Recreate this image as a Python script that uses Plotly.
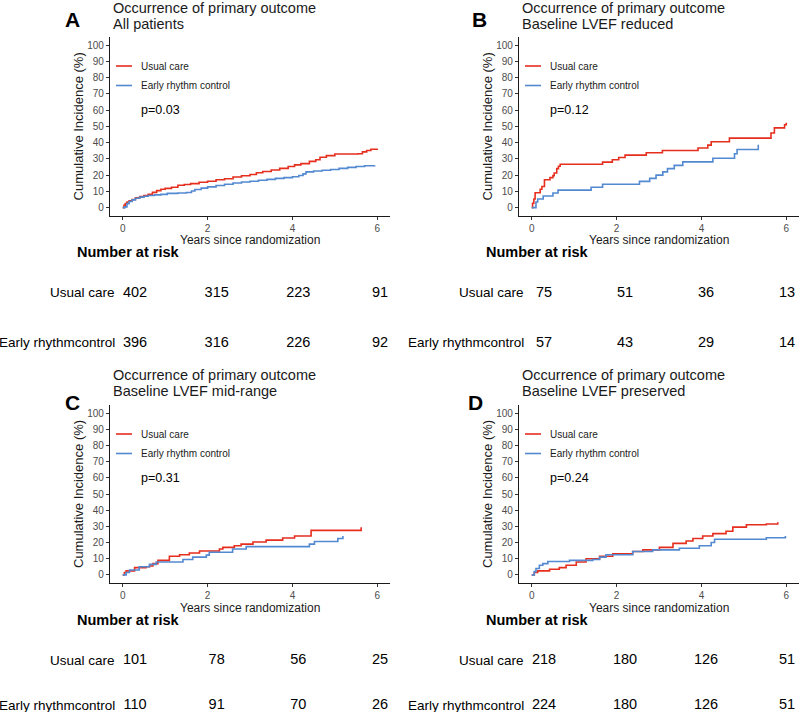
import plotly.graph_objects as go

# ---------------- data ----------------
panel_letters = ["A", "B", "C", "D"]
panel_subtitles = ["All patients", "Baseline LVEF reduced", "Baseline LVEF mid-range", "Baseline LVEF preserved"]
title_line1 = "Occurrence of primary outcome"
p_values = ["p=0.03", "p=0.12", "p=0.31", "p=0.24"]
group_names = ["Usual care", "Early rhythm control"]
risk_row_labels = ["Usual care", "Early rhythmcontrol"]
risk_times = [0, 2, 4, 6]
x_ticks = [0, 2, 4, 6]
y_ticks = [0, 10, 20, 30, 40, 50, 60, 70, 80, 90, 100]

# Panel A - all patients
A_usual_t = [0, 0.03, 0.06, 0.1, 0.15, 0.22, 0.3, 0.4, 0.5, 0.6, 0.7, 0.8, 0.9, 1.0, 1.15, 1.3, 1.45, 1.6, 1.8, 2.0,
             2.2, 2.4, 2.6, 2.8, 3.0, 3.15, 3.3, 3.5, 3.7, 3.9, 4.05, 4.2, 4.4, 4.55, 4.65, 4.8, 5.0, 5.55, 5.65, 5.75,
             5.85, 6.0]
A_usual_y = [0, 1.5, 2.5, 3.5, 4.2, 5.0, 6.0, 6.8, 7.5, 8.3, 9.4, 10.5, 11.3, 11.9, 12.6, 13.8, 14.3, 14.8, 15.6, 16.3,
             17.2, 17.8, 18.9, 19.6, 20.4, 21.5, 22.3, 23.2, 24.2, 25.3, 26.3, 27.1, 28.5, 29.5, 31.0, 32.0, 33.0, 33.2,
             34.3, 35.2, 35.9, 36.2]
A_early_t = [0, 0.05, 0.1, 0.15, 0.22, 0.3, 0.4, 0.5, 0.6, 0.75, 0.9, 1.05, 1.3, 1.5, 1.62, 1.7, 1.85, 2.0, 2.2, 2.4,
             2.6, 2.8, 3.0, 3.2, 3.4, 3.6, 3.8, 4.0, 4.15, 4.25, 4.32, 4.5, 4.7, 4.9, 5.1, 5.3, 5.5, 5.7, 5.94]
A_early_y = [0, 0.5, 2.5, 3.8, 4.8, 5.8, 6.5, 7.0, 7.5, 7.9, 8.2, 8.8, 9.0, 9.3, 10.3, 11.2, 12.0, 12.8, 13.6, 14.4,
             15.2, 15.8, 16.3, 16.9, 17.4, 18.0, 18.5, 19.0, 19.8, 20.8, 22.0, 22.6, 23.0, 23.5, 24.2, 24.8, 25.3, 25.8,
             26.0]
A_risk_usual = [402, 315, 223, 91]
A_risk_early = [396, 316, 226, 92]

# Panel B - LVEF reduced
B_usual_t = [0, 0.02, 0.05, 0.08, 0.2, 0.24, 0.3, 0.43, 0.5, 0.53, 0.59, 0.63, 0.67, 1.67, 1.9, 2.05, 2.2, 2.7, 3.08,
             3.92, 4.15, 4.23, 4.66, 5.64, 5.72, 5.96, 6.0]
B_usual_y = [0, 2.7, 5.3, 9.2, 11.3, 13.0, 17.2, 18.5, 19.7, 21.3, 24.0, 25.5, 26.7, 28.0, 29.5, 30.9, 32.3, 33.8,
             35.2, 36.7, 38.5, 40.6, 42.8, 45.9, 49.1, 51.0, 52.2]
B_early_t = [0, 0.1, 0.14, 0.27, 0.5, 0.62, 1.4, 1.67, 2.54, 2.78, 2.93, 3.09, 3.2, 3.36, 3.56, 4.27, 4.78, 4.84, 5.34]
B_early_y = [0, 3.5, 5.3, 7.2, 9.0, 10.8, 12.6, 14.4, 16.2, 18.0, 20.0, 22.0, 24.0, 26.0, 28.2, 30.4, 33.2, 35.8, 38.7]
B_risk_usual = [75, 51, 36, 13]
B_risk_early = [57, 43, 29, 14]

# Panel C - LVEF mid-range
C_usual_t = [0, 0.04, 0.08, 0.28, 0.55, 0.63, 0.71, 0.83, 1.1, 1.34, 1.57, 1.81, 2.28, 2.36, 2.63, 2.79, 3.07, 3.38,
             3.77, 4.05, 4.44, 5.62]
C_usual_y = [0, 1.5, 2.5, 4.5, 5.0, 5.5, 7.0, 9.0, 11.5, 12.5, 13.5, 14.8, 16.0, 17.0, 18.0, 19.0, 20.3, 21.5, 22.8,
             24.0, 27.5, 29.5]
C_early_t = [0, 0.08, 0.16, 0.39, 0.63, 0.79, 1.42, 1.65, 1.97, 2.04, 2.59, 2.91, 4.4, 4.52, 5.07, 5.19]
C_early_y = [0, 1.5, 3.0, 5.0, 6.5, 8.0, 9.5, 11.0, 12.2, 14.0, 16.0, 17.5, 19.0, 20.6, 22.5, 24.0]
C_risk_usual = [101, 78, 56, 25]
C_risk_early = [110, 91, 70, 26]

# Panel D - LVEF preserved
D_usual_t = [0, 0.06, 0.14, 0.42, 0.65, 0.81, 1.05, 1.28, 1.6, 1.91, 2.38, 2.62, 3.01, 3.33, 3.64, 3.8, 4.03, 4.27,
             4.58, 4.74, 5.06, 5.53, 5.8]
D_usual_y = [0, 1.5, 2.5, 3.5, 4.5, 6.0, 8.0, 10.0, 11.5, 13.0, 14.5, 15.5, 17.0, 19.5, 21.0, 22.5, 24.0, 25.5, 27.0,
             29.5, 31.0, 31.5, 32.5]
D_early_t = [0, 0.06, 0.1, 0.18, 0.26, 0.38, 0.89, 1.44, 1.6, 1.75, 2.38, 2.85, 3.48, 3.95, 4.23, 4.31, 5.53, 5.98]
D_early_y = [0, 2.0, 4.0, 6.0, 7.0, 8.3, 9.0, 9.5, 11.0, 12.5, 14.5, 15.5, 16.5, 18.0, 20.0, 22.0, 23.0, 24.0]
D_risk_usual = [218, 180, 126, 51]
D_risk_early = [224, 180, 126, 51]

curves = [
    (A_usual_t, A_usual_y, A_early_t, A_early_y),
    (B_usual_t, B_usual_y, B_early_t, B_early_y),
    (C_usual_t, C_usual_y, C_early_t, C_early_y),
    (D_usual_t, D_usual_y, D_early_t, D_early_y),
]
risks = [
    (A_risk_usual, A_risk_early),
    (B_risk_usual, B_risk_early),
    (C_risk_usual, C_risk_early),
    (D_risk_usual, D_risk_early),
]

# ---------------- styling / layout ----------------
W, H = 800, 712
RED = "#E62E1E"
BLUE = "#5289D1"
FONT = "Liberation Sans, Arial, sans-serif"


def X(px):
    return px / W


def Y(py):
    return 1 - py / H


# pixel geometry for each panel
geom = [
    dict(l=110, r=390, t=37, b=215.8, rx0=135, rx6=380, ry1=293, ry2=343, dx=0),
    dict(l=519, r=799, t=37, b=215.8, rx0=544, rx6=787, ry1=293, ry2=343, dx=409),
    dict(l=110, r=390, t=405, b=583, rx0=135, rx6=380, ry1=660, ry2=705, dx=0),
    dict(l=519, r=799, t=405, b=583, rx0=544, rx6=787, ry1=660, ry2=705, dx=409),
]
title_y = [(8, 23.5), (8, 23.5), (375, 390.5), (375, 390.5)]
letter_pos = [(72, 20), (479, 20), (72, 402), (475, 402)]

fig = go.Figure()
layout = dict(
    width=W, height=H,
    margin=dict(l=0, r=0, t=0, b=0),
    paper_bgcolor="white", plot_bgcolor="white",
    showlegend=False,
    font=dict(family=FONT, color="black"),
)
annotations = []
shapes = []

for i in range(4):
    g = geom[i]
    n = "" if i == 0 else str(i + 1)
    xa, ya = "x" + n, "y" + n
    ut, uy, et, ey = curves[i]
    fig.add_trace(go.Scatter(x=ut, y=uy, mode="lines", line=dict(color=RED, width=1.6, shape="hv"),
                             name=group_names[0], xaxis=xa, yaxis=ya))
    fig.add_trace(go.Scatter(x=et, y=ey, mode="lines", line=dict(color=BLUE, width=1.6, shape="hv"),
                             name=group_names[1], xaxis=xa, yaxis=ya))
    axcommon = dict(showline=True, linecolor="#1a1a1a", linewidth=1.2, showgrid=False, zeroline=False,
                    ticks="outside", ticklen=3, tickcolor="#333333", tickwidth=1,
                    tickfont=dict(size=10, color="#4D4D4D", family=FONT), fixedrange=True)
    layout["xaxis" + n] = dict(domain=[X(g["l"]), X(g["r"])], range=[-0.3, 6.3], tickvals=x_ticks,
                               anchor=ya, **axcommon)
    layout["yaxis" + n] = dict(domain=[Y(g["b"]), Y(g["t"])], range=[-5, 105], tickvals=y_ticks,
                               anchor=xa, **axcommon)

    # risk table axes
    rn = str(i + 5)
    layout["xaxis" + rn] = dict(domain=[X(g["rx0"]), X(g["rx6"])], range=[0, 6], visible=False,
                                anchor="y" + rn, fixedrange=True)
    layout["yaxis" + rn] = dict(domain=[Y(g["ry2"]), Y(g["ry1"])], range=[0, 1], visible=False,
                                anchor="x" + rn, fixedrange=True)
    ru, re_ = risks[i]
    fig.add_trace(go.Scatter(x=risk_times, y=[1] * len(risk_times), mode="text",
                             text=[str(v) for v in ru], textposition="middle center",
                             textfont=dict(size=14.5, color="black", family=FONT),
                             xaxis="x" + rn, yaxis="y" + rn, cliponaxis=False, hoverinfo="skip"))
    fig.add_trace(go.Scatter(x=risk_times, y=[0] * len(risk_times), mode="text",
                             text=[str(v) for v in re_], textposition="middle center",
                             textfont=dict(size=14.5, color="black", family=FONT),
                             xaxis="x" + rn, yaxis="y" + rn, cliponaxis=False, hoverinfo="skip"))
    for lab, yy in zip(risk_row_labels, [1, 0]):
        annotations.append(dict(text=lab, xref="paper", yref="y" + rn, x=X(117 + g["dx"]), y=yy,
                                xanchor="right", yanchor="middle", showarrow=False,
                                font=dict(size=13.5, color="black", family=FONT)))

    # titles
    tl = g["l"] + 1
    annotations.append(dict(text=title_line1, xref="paper", yref="paper", x=X(tl), y=Y(title_y[i][0]),
                            xanchor="left", yanchor="middle", showarrow=False,
                            font=dict(size=14.5, color="#1a1a1a", family=FONT)))
    annotations.append(dict(text=panel_subtitles[i], xref="paper", yref="paper", x=X(tl), y=Y(title_y[i][1]),
                            xanchor="left", yanchor="middle", showarrow=False,
                            font=dict(size=14.5, color="#1a1a1a", family=FONT)))
    lx, ly = letter_pos[i]
    annotations.append(dict(text="<b>" + panel_letters[i] + "</b>", xref="paper", yref="paper", x=X(lx), y=Y(ly),
                            xanchor="center", yanchor="middle", showarrow=False,
                            font=dict(size=21, color="black", family=FONT)))

    # y axis title
    annotations.append(dict(text="Cumulative Incidence (%)", xref="paper", yref="paper",
                            x=X(g["l"] - 32), y=Y((g["t"] + g["b"]) / 2), textangle=-90,
                            xanchor="center", yanchor="middle", showarrow=False,
                            font=dict(size=13, color="#1a1a1a", family=FONT)))
    # x axis title
    annotations.append(dict(text="Years since randomization", xref="paper", yref="paper",
                            x=X((g["l"] + g["r"]) / 2), y=Y(g["b"] + 24.5),
                            xanchor="center", yanchor="middle", showarrow=False,
                            font=dict(size=12, color="#1a1a1a", family=FONT)))
    # Number at risk
    annotations.append(dict(text="<b>Number at risk</b>", xref="paper", yref="paper",
                            x=X(75 + g["dx"]), y=Y(g["b"] + 36.5),
                            xanchor="left", yanchor="middle", showarrow=False,
                            font=dict(size=14.5, color="black", family=FONT)))

    # in-panel legend
    legx = g["l"] + 6
    for k, (nm, col) in enumerate(zip(group_names, [RED, BLUE])):
        ly_ = g["t"] + 29 + 19.5 * k
        shapes.append(dict(type="line", xref="paper", yref="paper", x0=X(legx), x1=X(legx + 16),
                           y0=Y(ly_), y1=Y(ly_), line=dict(color=col, width=1.6)))
        annotations.append(dict(text=nm, xref="paper", yref="paper", x=X(legx + 23), y=Y(ly_),
                                xanchor="left", yanchor="middle", showarrow=False,
                                font=dict(size=10, color="#1a1a1a", family=FONT)))
    # p value
    annotations.append(dict(text=p_values[i], xref="paper", yref="paper", x=X(legx + 23), y=Y(g["t"] + 73),
                            xanchor="left", yanchor="middle", showarrow=False,
                            font=dict(size=12.5, color="black", family=FONT)))

layout["annotations"] = annotations
layout["shapes"] = shapes
fig.update_layout(**layout)
fig.write_html("out.html", config={"displayModeBar": False},
               post_script="document.body.style.margin='0px';document.body.style.overflow='hidden';")
